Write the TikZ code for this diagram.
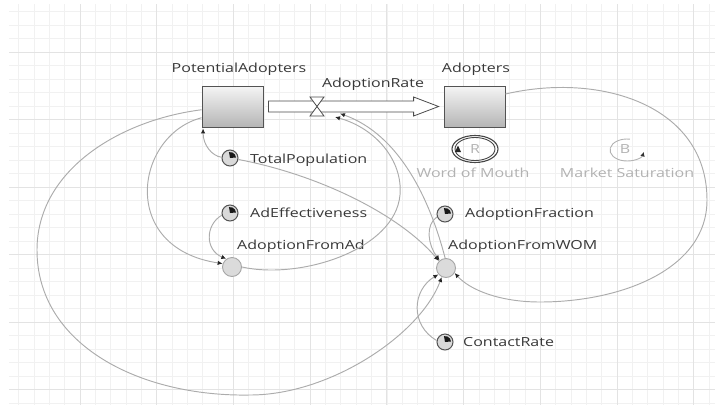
\documentclass[tikz,border=0pt]{standalone}
\usepackage{fontspec}
\setmainfont[FakeStretch=1.28]{Open Sans}
\usetikzlibrary{arrows.meta,calc}
\newcommand\lblfont{\fontsize{12.5}{14}\selectfont}
\tikzset{
  gridminor/.style={draw=gray!11, line width=0.6pt},
  gridmajor/.style={draw=gray!22, line width=0.8pt},
  stock/.style={rectangle, minimum width=61pt, minimum height=41pt, inner sep=0pt,
    draw=gray!65!black, line width=0.8pt, top color=gray!8, bottom color=gray!58},
  aux/.style={circle, minimum size=16pt, inner sep=0pt, draw=gray!65!black, line width=1pt,
    fill=gray!30, path picture={\fill[black!90] (path picture bounding box.center) -- ++(5:6pt)
      arc[start angle=5, end angle=100, radius=6pt] -- cycle;}},
  flowvar/.style={circle, minimum size=19pt, inner sep=0pt, draw=gray!70, line width=0.9pt, fill=gray!28},
  lbl/.style={text=black!78, font=\lblfont, inner sep=0pt},
  looplbl/.style={text=gray!60, font=\lblfont, inner sep=0pt},
  conn/.style={draw=gray!65, line width=0.95pt, -{Latex[length=5pt,width=4.5pt,color=gray!30!black]}},
  pipe/.style={draw=gray!60!black, line width=0.8pt, fill=white},
  valveshape/.style={draw=gray!60!black, line width=0.8pt, fill=white},
}
\begin{document}
\begin{tikzpicture}[x=1pt,y=-1pt]
\useasboundingbox (0,0) rectangle (715,405);
% grid
\begin{scope}
\clip (9,4) rectangle (715,405);
\foreach \i in {-5,...,42} {\pgfmathsetmacro\xx{80+\i*15.34}\draw[gridminor] (\xx,0) -- (\xx,405);}
\foreach \k in {-4,...,27} {\pgfmathsetmacro\yy{52+\k*13.5}\draw[gridminor] (0,\yy) -- (715,\yy);}
\foreach \i in {-1,...,8} {\pgfmathsetmacro\xx{80+\i*76.7}\draw[gridmajor] (\xx,0) -- (\xx,405);}
\foreach \k in {-1,...,6} {\pgfmathsetmacro\yy{52+\k*67.5}\draw[gridmajor] (0,\yy) -- (715,\yy);}
\end{scope}

% stocks
\node[stock] (PA) at (232.5,106.5) {};
\node[stock] (AD) at (474.5,106.5) {};
\node[lbl, anchor=base] (lPA) at (239,72) {PotentialAdopters};
\node[lbl, anchor=base] (lAD) at (476,72) {Adopters};

% flow pipe
\coordinate (p1) at ($(PA.east)+(5,0)$);
\coordinate (p2) at ($(AD.west)+(-5,0)$);
\draw[pipe] ($(p1)+(0,-5.5)$) -- ($(p2)+(-25,-5.5)$) -- ($(p2)+(-25,-9.5)$) -- (p2)
  -- ($(p2)+(-25,9.5)$) -- ($(p2)+(-25,5.5)$) -- ($(p1)+(0,5.5)$) -- cycle;
\coordinate (AR) at (317,106.5);
\draw[valveshape] ($(AR)+(-7,-9.5)$) -- ($(AR)+(7,-9.5)$) -- ($(AR)+(-7,9.5)$) -- ($(AR)+(7,9.5)$) -- cycle;
\node[lbl, anchor=base] (lAR) at (373,87) {AdoptionRate};

% auxiliaries
\node[aux] (TP) at (230,158) {};
\node[lbl, anchor=base west] (lTP) at (250,163) {TotalPopulation};
\node[aux] (AE) at (230,213) {};
\node[lbl, anchor=base west] (lAE) at (250,217) {AdEffectiveness};
\node[aux] (AF) at (445,214) {};
\node[lbl, anchor=base west] (lAF) at (465,217) {AdoptionFraction};
\node[aux] (CR) at (445,342) {};
\node[lbl, anchor=base west] (lCR) at (463,346) {ContactRate};

% flow variables
\node[flowvar] (AFA) at (232,267) {};
\node[lbl, anchor=base west] (lAFA) at (237,249) {AdoptionFromAd};
\node[flowvar] (AFW) at (446,268) {};
\node[lbl, anchor=base west] (lAFW) at (448,249) {AdoptionFromWOM};

% loops
\coordinate (RL) at (475,149);
\draw[gray!55!black, line width=1.1pt] (RL) ellipse [x radius=23pt, y radius=13.5pt];
\draw[gray!55!black, line width=0.9pt] (RL) ellipse [x radius=20pt, y radius=11.5pt];
\fill[black!85] (455,152) -- (461,152) -- (458,145.5) -- cycle;
\node[looplbl] (lR) at (RL) {R};
\node[looplbl, anchor=base] (lWM) at (473,177) {Word of Mouth};
\coordinate (BL) at (627,150);
\draw[gray!60, line width=0.9pt, -{Latex[length=4.5pt,width=4.5pt,color=gray!40!black]}]
  ($(BL)+(80:17pt and 11pt)$) arc[start angle=80, end angle=350, x radius=17pt, y radius=11pt];
\node[looplbl] (lB) at (625,149) {B};
\node[looplbl, anchor=base] (lMS) at (627,177) {Market Saturation};

% connectors
\draw[conn] (PA.186) .. controls (120,120) and (37,170) .. (37,250)
  .. controls (37,345) and (140,397) .. (250,395)
  .. controls (330,395) and (420,335) .. (AFW.245);
\draw[conn] (PA.200) .. controls (135,135) and (118,248) .. (AFA.160);
\draw[conn] (TP.175) .. controls (212,156) and (203,145) .. ($(PA.south west)+(1.5,1)$);
\draw[conn] (TP.-10) .. controls (320,175) and (400,215) .. (AFW.135);
\draw[conn] (AE.195) .. controls (205,225) and (205,250) .. (AFA.125);
\draw[conn] (AFA.east) .. controls (300,280) and (395,250) .. (400,195)
  .. controls (403,160) and (375,128) .. ($(AR)+(18,10.5)$);
\draw[conn] (AFW.95) .. controls (430,200) and (400,135) .. ($(AR)+(23,7)$);
\draw[conn] (AF.200) .. controls (425,225) and (428,245) .. (AFW.130);
\draw[conn] (CR.170) .. controls (410,325) and (412,290) .. (AFW.220);
\draw[conn] (AD.22) .. controls (600,72) and (707,105) .. (707,200)
  .. controls (707,270) and (620,302) .. (540,302)
  .. controls (500,302) and (470,290) .. (AFW.-30);
\end{tikzpicture}
\end{document}
